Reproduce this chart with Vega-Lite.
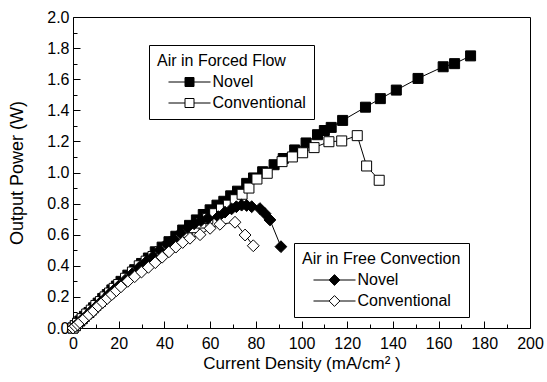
{
  "$schema": "https://vega.github.io/schema/vega-lite/v6.json",
  "width": 457,
  "height": 311,
  "autosize": "none",
  "padding": {"left": 73, "top": 17, "right": 17, "bottom": 54},
  "background": "white",
  "config": {
    "font": "Liberation Sans",
    "view": {"stroke": "black", "strokeWidth": 1},
    "axis": {"domain": false, "tickColor": "black", "labelColor": "black", "titleColor": "black", "grid": false, "labelFont": "Liberation Sans", "titleFont": "Liberation Sans", "titleFontWeight": "normal", "tickWidth": 1, "ticks": true, "labelFlush": false, "labelOverlap": false},
    "legend": {"titleFont": "Liberation Sans", "labelFont": "Liberation Sans", "titleFontWeight": "normal", "titleFontSize": 16, "labelFontSize": 16, "titleColor": "black", "labelColor": "black", "strokeColor": "black", "padding": 8, "symbolStrokeColor": "black", "symbolStrokeWidth": 1, "symbolSize": 81, "symbolOffset": 24.5, "labelOffset": 15, "rowPadding": 5, "titlePadding": 5, "orient": "none"}
  },
  "datasets": {
    "forced": [
      {"x": 0, "y": 0, "s": "Novel"}, {"x": 1, "y": 0.015, "s": "Novel"}, {"x": 2, "y": 0.03, "s": "Novel"}, {"x": 3, "y": 0.045, "s": "Novel"}, {"x": 4, "y": 0.06, "s": "Novel"}, {"x": 5, "y": 0.075, "s": "Novel"}, {"x": 7, "y": 0.1, "s": "Novel"}, {"x": 9, "y": 0.13, "s": "Novel"}, {"x": 11, "y": 0.16, "s": "Novel"}, {"x": 13, "y": 0.19, "s": "Novel"}, {"x": 15, "y": 0.215, "s": "Novel"}, {"x": 17, "y": 0.245, "s": "Novel"}, {"x": 19, "y": 0.27, "s": "Novel"}, {"x": 21, "y": 0.3, "s": "Novel"}, {"x": 24, "y": 0.34, "s": "Novel"}, {"x": 27, "y": 0.375, "s": "Novel"}, {"x": 30, "y": 0.415, "s": "Novel"}, {"x": 33, "y": 0.45, "s": "Novel"}, {"x": 36, "y": 0.49, "s": "Novel"}, {"x": 39, "y": 0.52, "s": "Novel"}, {"x": 42, "y": 0.555, "s": "Novel"}, {"x": 45, "y": 0.59, "s": "Novel"}, {"x": 48, "y": 0.63, "s": "Novel"}, {"x": 51, "y": 0.66, "s": "Novel"}, {"x": 54, "y": 0.695, "s": "Novel"}, {"x": 57, "y": 0.73, "s": "Novel"}, {"x": 60, "y": 0.76, "s": "Novel"}, {"x": 63, "y": 0.79, "s": "Novel"}, {"x": 66, "y": 0.815, "s": "Novel"}, {"x": 69, "y": 0.85, "s": "Novel"}, {"x": 72, "y": 0.88, "s": "Novel"}, {"x": 76, "y": 0.93, "s": "Novel"}, {"x": 79, "y": 0.965, "s": "Novel"}, {"x": 83, "y": 1.005, "s": "Novel"}, {"x": 88, "y": 1.05, "s": "Novel"}, {"x": 92, "y": 1.09, "s": "Novel"}, {"x": 97, "y": 1.145, "s": "Novel"}, {"x": 102, "y": 1.19, "s": "Novel"}, {"x": 107, "y": 1.243, "s": "Novel"}, {"x": 110, "y": 1.27, "s": "Novel"}, {"x": 113, "y": 1.29, "s": "Novel"}, {"x": 118, "y": 1.335, "s": "Novel"}, {"x": 128, "y": 1.42, "s": "Novel"}, {"x": 134.5, "y": 1.475, "s": "Novel"}, {"x": 141.5, "y": 1.53, "s": "Novel"}, {"x": 151, "y": 1.605, "s": "Novel"}, {"x": 162, "y": 1.68, "s": "Novel"}, {"x": 167, "y": 1.7, "s": "Novel"}, {"x": 174, "y": 1.75, "s": "Novel"},
      {"x": 0, "y": 0, "s": "Conventional"}, {"x": 1, "y": 0.015, "s": "Conventional"}, {"x": 2, "y": 0.03, "s": "Conventional"}, {"x": 4, "y": 0.06, "s": "Conventional"}, {"x": 6, "y": 0.09, "s": "Conventional"}, {"x": 8, "y": 0.115, "s": "Conventional"}, {"x": 10, "y": 0.145, "s": "Conventional"}, {"x": 12, "y": 0.17, "s": "Conventional"}, {"x": 14, "y": 0.2, "s": "Conventional"}, {"x": 16, "y": 0.225, "s": "Conventional"}, {"x": 18, "y": 0.255, "s": "Conventional"}, {"x": 20, "y": 0.28, "s": "Conventional"}, {"x": 23, "y": 0.32, "s": "Conventional"}, {"x": 26, "y": 0.36, "s": "Conventional"}, {"x": 29, "y": 0.4, "s": "Conventional"}, {"x": 32, "y": 0.43, "s": "Conventional"}, {"x": 35, "y": 0.46, "s": "Conventional"}, {"x": 38, "y": 0.49, "s": "Conventional"}, {"x": 41, "y": 0.52, "s": "Conventional"}, {"x": 44, "y": 0.555, "s": "Conventional"}, {"x": 47, "y": 0.585, "s": "Conventional"}, {"x": 50, "y": 0.615, "s": "Conventional"}, {"x": 53, "y": 0.645, "s": "Conventional"}, {"x": 56, "y": 0.675, "s": "Conventional"}, {"x": 59, "y": 0.705, "s": "Conventional"}, {"x": 62, "y": 0.735, "s": "Conventional"}, {"x": 65, "y": 0.765, "s": "Conventional"}, {"x": 68, "y": 0.79, "s": "Conventional"}, {"x": 71, "y": 0.825, "s": "Conventional"}, {"x": 74, "y": 0.86, "s": "Conventional"}, {"x": 77, "y": 0.9, "s": "Conventional"}, {"x": 80.5, "y": 0.958, "s": "Conventional"}, {"x": 85, "y": 0.995, "s": "Conventional"}, {"x": 91.5, "y": 1.07, "s": "Conventional"}, {"x": 96, "y": 1.1, "s": "Conventional"}, {"x": 100.5, "y": 1.127, "s": "Conventional"}, {"x": 105.5, "y": 1.16, "s": "Conventional"}, {"x": 112, "y": 1.198, "s": "Conventional"}, {"x": 117.6, "y": 1.203, "s": "Conventional"}, {"x": 124.4, "y": 1.237, "s": "Conventional"}, {"x": 128.5, "y": 1.042, "s": "Conventional"}, {"x": 134, "y": 0.95, "s": "Conventional"}
    ],
    "free": [
      {"x": 0, "y": 0, "s": "Novel"}, {"x": 1, "y": 0.012, "s": "Novel"}, {"x": 2, "y": 0.025, "s": "Novel"}, {"x": 3, "y": 0.04, "s": "Novel"}, {"x": 4, "y": 0.055, "s": "Novel"}, {"x": 6, "y": 0.08, "s": "Novel"}, {"x": 8, "y": 0.11, "s": "Novel"}, {"x": 10, "y": 0.135, "s": "Novel"}, {"x": 12, "y": 0.165, "s": "Novel"}, {"x": 14, "y": 0.19, "s": "Novel"}, {"x": 16, "y": 0.22, "s": "Novel"}, {"x": 18, "y": 0.245, "s": "Novel"}, {"x": 20, "y": 0.27, "s": "Novel"}, {"x": 23, "y": 0.31, "s": "Novel"}, {"x": 26, "y": 0.35, "s": "Novel"}, {"x": 29, "y": 0.39, "s": "Novel"}, {"x": 32, "y": 0.425, "s": "Novel"}, {"x": 35, "y": 0.46, "s": "Novel"}, {"x": 38, "y": 0.5, "s": "Novel"}, {"x": 41, "y": 0.54, "s": "Novel"}, {"x": 44, "y": 0.57, "s": "Novel"}, {"x": 47, "y": 0.61, "s": "Novel"}, {"x": 50, "y": 0.645, "s": "Novel"}, {"x": 53, "y": 0.67, "s": "Novel"}, {"x": 56, "y": 0.69, "s": "Novel"}, {"x": 59, "y": 0.705, "s": "Novel"}, {"x": 63.6, "y": 0.716, "s": "Novel"}, {"x": 66.5, "y": 0.745, "s": "Novel"}, {"x": 69.4, "y": 0.766, "s": "Novel"}, {"x": 71.5, "y": 0.78, "s": "Novel"}, {"x": 73.8, "y": 0.79, "s": "Novel"}, {"x": 76, "y": 0.788, "s": "Novel"}, {"x": 78.2, "y": 0.78, "s": "Novel"}, {"x": 81.8, "y": 0.768, "s": "Novel"}, {"x": 84, "y": 0.736, "s": "Novel"}, {"x": 86.2, "y": 0.695, "s": "Novel"}, {"x": 91, "y": 0.523, "s": "Novel"},
      {"x": 0, "y": 0, "s": "Conventional"}, {"x": 1, "y": 0.012, "s": "Conventional"}, {"x": 2, "y": 0.024, "s": "Conventional"}, {"x": 3, "y": 0.036, "s": "Conventional"}, {"x": 5, "y": 0.06, "s": "Conventional"}, {"x": 7, "y": 0.085, "s": "Conventional"}, {"x": 9, "y": 0.11, "s": "Conventional"}, {"x": 11, "y": 0.14, "s": "Conventional"}, {"x": 13, "y": 0.165, "s": "Conventional"}, {"x": 15, "y": 0.19, "s": "Conventional"}, {"x": 17, "y": 0.215, "s": "Conventional"}, {"x": 19, "y": 0.24, "s": "Conventional"}, {"x": 21, "y": 0.265, "s": "Conventional"}, {"x": 24, "y": 0.3, "s": "Conventional"}, {"x": 27, "y": 0.33, "s": "Conventional"}, {"x": 30, "y": 0.36, "s": "Conventional"}, {"x": 33, "y": 0.39, "s": "Conventional"}, {"x": 36, "y": 0.42, "s": "Conventional"}, {"x": 39, "y": 0.455, "s": "Conventional"}, {"x": 42, "y": 0.49, "s": "Conventional"}, {"x": 45, "y": 0.52, "s": "Conventional"}, {"x": 48, "y": 0.55, "s": "Conventional"}, {"x": 51.2, "y": 0.577, "s": "Conventional"}, {"x": 55.6, "y": 0.6, "s": "Conventional"}, {"x": 60, "y": 0.641, "s": "Conventional"}, {"x": 64.3, "y": 0.667, "s": "Conventional"}, {"x": 70.9, "y": 0.68, "s": "Conventional"}, {"x": 75.3, "y": 0.598, "s": "Conventional"}, {"x": 78.9, "y": 0.529, "s": "Conventional"}
    ]
  },
  "layer": [
    {
      "data": {"name": "forced"},
      "encoding": {
        "x": {
          "field": "x", "type": "quantitative",
          "scale": {"domain": [0, 200], "nice": false, "zero": false},
          "axis": {
            "title": "Current Density (mA/cm² )",
            "values": [0, 20, 40, 60, 80, 100, 120, 140, 160, 180, 200],
            "offset": -7,
            "tickSize": 7,
            "labelPadding": 7,
            "labelFontSize": 16,
            "titleFontSize": 17,
            "titlePadding": 4
          }
        },
        "y": {
          "field": "y", "type": "quantitative",
          "scale": {"domain": [0, 2], "nice": false, "zero": false},
          "axis": {
            "title": "Output Power (W)",
            "values": [0, 0.2, 0.4, 0.6, 0.8, 1.0, 1.2, 1.4, 1.6, 1.8, 2.0],
            "format": ".1f",
            "offset": -7,
            "tickSize": 7,
            "labelPadding": 4,
            "labelFontSize": 16,
            "titleFontSize": 18,
            "titlePadding": 20
          }
        }
      },
      "layer": [
        {"mark": {"type": "line", "color": "black", "strokeWidth": 1}, "encoding": {"detail": {"field": "s"}}},
        {
          "mark": {"type": "point", "shape": "square", "size": 100, "filled": true, "stroke": "black", "strokeWidth": 1, "opacity": 1},
          "encoding": {
            "fill": {
              "field": "s", "type": "nominal",
              "scale": {"domain": ["Novel", "Conventional"], "range": ["black", "white"]},
              "legend": {"title": "Air in Forced Flow", "legendX": 76, "legendY": 28, "symbolType": "M-4.67,0H-1M1,0H4.67M-1,-1H1V1H-1Z"}
            }
          }
        }
      ]
    },
    {
      "data": {"name": "free"},
      "encoding": {
        "x": {
          "field": "x", "type": "quantitative",
          "scale": {"domain": [0, 200], "nice": false, "zero": false},
          "axis": {
            "orient": "bottom",
            "title": null,
            "values": [10, 30, 50, 70, 90, 110, 130, 150, 170, 190],
            "offset": -4,
            "tickSize": 4,
            "labels": false
          }
        },
        "y": {
          "field": "y", "type": "quantitative",
          "scale": {"domain": [0, 2], "nice": false, "zero": false},
          "axis": {
            "orient": "left",
            "title": null,
            "values": [0.1, 0.3, 0.5, 0.7, 0.9, 1.1, 1.3, 1.5, 1.7, 1.9],
            "offset": -4,
            "tickSize": 4,
            "labels": false
          }
        }
      },
      "layer": [
        {"mark": {"type": "line", "color": "black", "strokeWidth": 1}, "encoding": {"detail": {"field": "s"}}},
        {
          "mark": {"type": "point", "shape": "diamond", "size": 140, "filled": true, "stroke": "black", "strokeWidth": 1, "opacity": 1},
          "encoding": {
            "fill": {
              "field": "s", "type": "nominal",
              "scale": {"domain": ["Novel", "Conventional"], "range": ["black", "white"]},
              "legend": {"title": "Air in Free Convection", "legendX": 221, "legendY": 226, "symbolType": "M-4.67,0H-1.2M1.2,0H4.67M0,-1.2L1.2,0L0,1.2L-1.2,0Z"}
            }
          }
        }
      ]
    }
  ],
  "resolve": {"scale": {"fill": "independent"}, "axis": {"x": "independent", "y": "independent"}}
}
